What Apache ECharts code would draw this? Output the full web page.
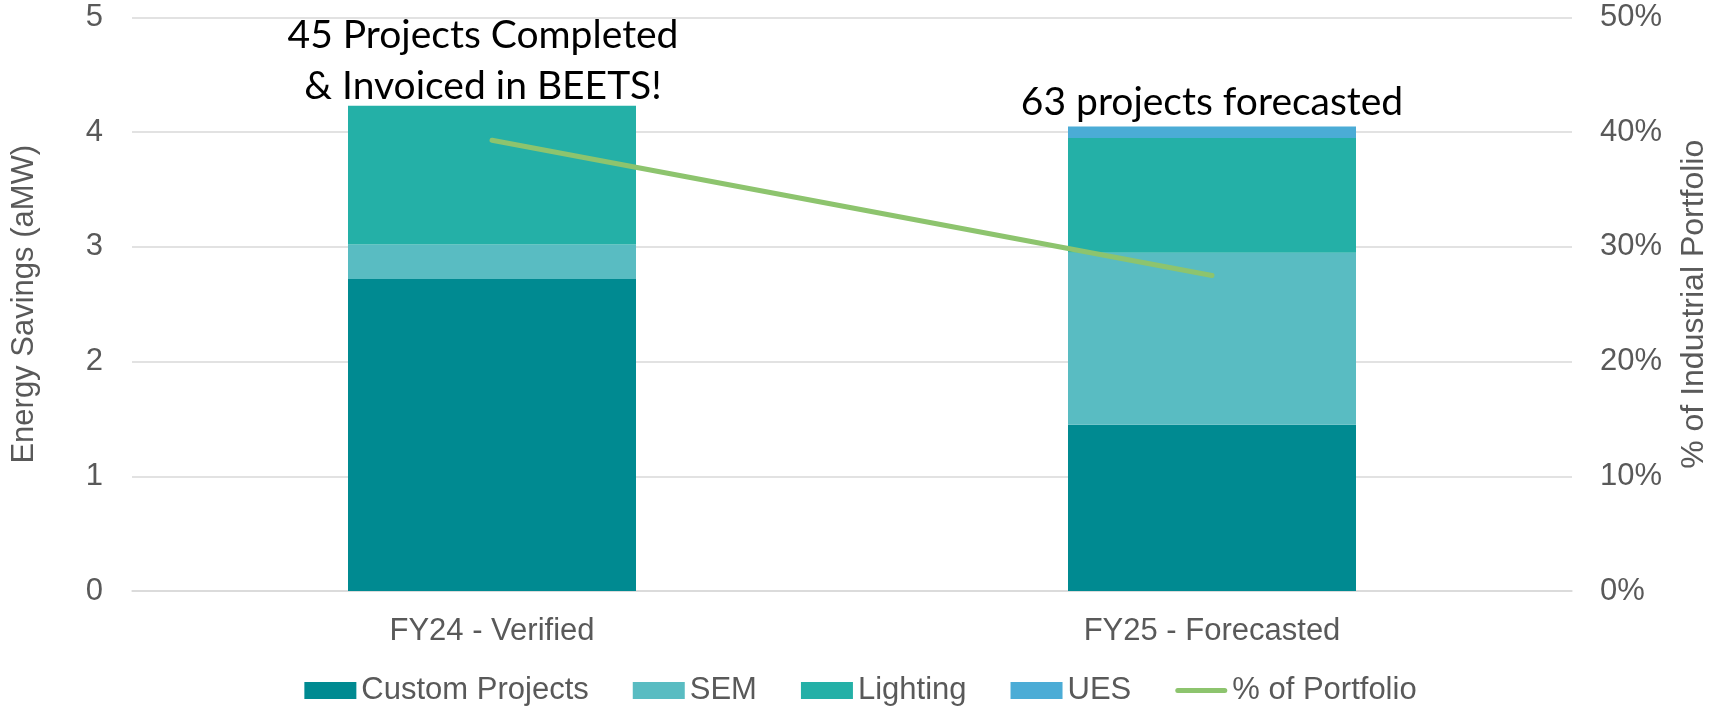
<!DOCTYPE html>
<html>
<head>
<meta charset="utf-8">
<title>Energy Savings</title>
<script src="https://cdn.jsdelivr.net/npm/echarts@6/dist/echarts.min.js"></script>
<style>
  html, body { margin: 0; padding: 0; background: #fff; }
  #chart { width: 1721px; height: 707px; }
</style>
</head>
<body>
<div id="chart"></div>
<script>
// categories and values
const categories = ['FY24 - Verified', 'FY25 - Forecasted']
const customProjects = [2.72, 1.45]
const sem = [0.30, 1.50]
const lighting = [1.21, 1.00]
const ues = [0, 0.10]
const portfolioPct = [39.3, 27.5]
const notes = ['45 Projects Completed\n& Invoiced in BEETS!', '63 projects forecasted']

const axisFont = 'Liberation Sans, Arial, sans-serif'
const noteFont = 'Lato, Calibri, sans-serif'
const grey = '#595959'

const noteLabel = (text, distance, dx) => ({
  show: true,
  position: 'top',
  distance: distance,
  offset: [dx, 0],
  formatter: text,
  color: '#000',
  fontFamily: noteFont,
  fontSize: 39,
  lineHeight: 51,
  align: 'center',
})

const chart = echarts.init(document.getElementById('chart'))

const option = {
  animation: false,
  grid: {
    left: 132,
    right: 149,
    top: 17.5,
    bottom: 116,
  },
  legend: {
    top: 670,
    left: 'center',
    itemWidth: 52,
    itemHeight: 17,
    itemGap: 44,
    textStyle: { color: grey, fontFamily: axisFont, fontSize: 31 },
    data: [
      { name: 'Custom Projects', icon: 'rect' },
      { name: 'SEM', icon: 'rect' },
      { name: 'Lighting', icon: 'rect' },
      { name: 'UES', icon: 'rect' },
      { name: '% of Portfolio', icon: 'path://M2.5,0 L49.5,0 A2.5,2.5 0 0 1 49.5,5 L2.5,5 A2.5,2.5 0 0 1 2.5,0 Z' },
    ],
  },
  xAxis: {
    type: 'category',
    data: categories,
    axisTick: { show: false },
    axisLine: { lineStyle: { color: '#d9d9d9', width: 1.5 } },
    axisLabel: { color: grey, fontFamily: axisFont, fontSize: 31, margin: 25 },
  },
  yAxis: [
    {
      type: 'value',
      min: 0,
      max: 5,
      interval: 1,
      name: 'Energy Savings (aMW)',
      nameLocation: 'middle',
      nameGap: 92,
      nameTextStyle: { color: grey, fontFamily: axisFont, fontSize: 31 },
      axisLabel: { color: grey, fontFamily: axisFont, fontSize: 31, margin: 29 },
      splitLine: { lineStyle: { color: '#d9d9d9', width: 1.5 } },
      axisLine: { show: false },
      axisTick: { show: false },
    },
    {
      type: 'value',
      min: 0,
      max: 50,
      interval: 10,
      name: '% of Industrial Portfolio',
      nameLocation: 'middle',
      nameGap: 106,
      nameRotate: 90,
      nameTextStyle: { color: grey, fontFamily: axisFont, fontSize: 32 },
      axisLabel: { color: grey, fontFamily: axisFont, fontSize: 31, margin: 28, formatter: '{value}%' },
      splitLine: { show: false },
      axisLine: { show: false },
      axisTick: { show: false },
    },
  ],
  series: [
    {
      name: 'Custom Projects',
      type: 'bar',
      stack: 'savings',
      barWidth: '40%',
      itemStyle: { color: '#008a91' },
      data: customProjects,
    },
    {
      name: 'SEM',
      type: 'bar',
      stack: 'savings',
      itemStyle: { color: '#59bcc2' },
      data: sem,
    },
    {
      name: 'Lighting',
      type: 'bar',
      stack: 'savings',
      itemStyle: { color: '#24b0a7' },
      data: lighting.map((v, i) => i === 0 ? { value: v, label: noteLabel(notes[0], -6, -9) } : v),
    },
    {
      name: 'UES',
      type: 'bar',
      stack: 'savings',
      itemStyle: { color: '#4bacd6' },
      data: ues.map((v, i) => i === 1 ? { value: v, label: noteLabel(notes[1], -1, 0) } : v),
    },
    {
      name: '% of Portfolio',
      type: 'line',
      yAxisIndex: 1,
      symbol: 'none',
      itemStyle: { color: '#8dc46e' },
      lineStyle: { color: '#8dc46e', width: 5, cap: 'round' },
      data: portfolioPct,
      z: 5,
    },
  ],
}

chart.setOption(option)
</script>
</body>
</html>
